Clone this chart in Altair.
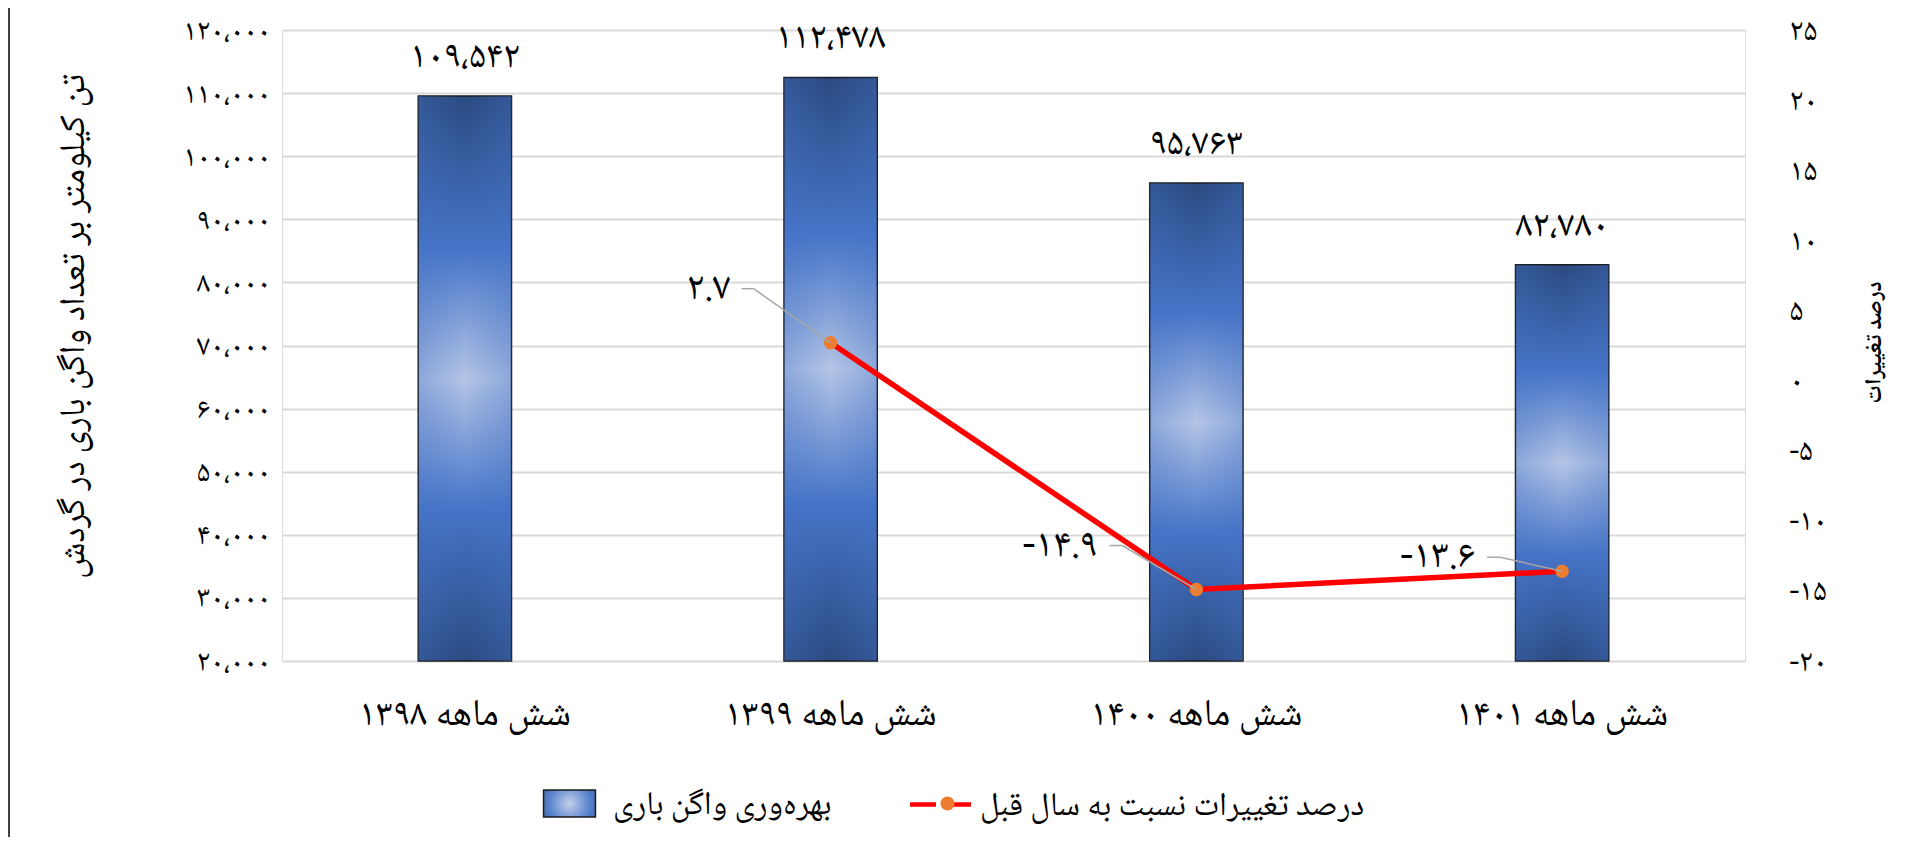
import altair as alt
import pandas as pd

# ---------------- data ----------------
categories = ["شش ماهه ۱۳۹۸", "شش ماهه ۱۳۹۹", "شش ماهه ۱۴۰۰", "شش ماهه ۱۴۰۱"]
productivity = [109542, 112478, 95763, 82780]
productivity_labels = ["۱۰۹،۵۴۲", "۱۱۲،۴۷۸", "۹۵،۷۶۳", "۸۲،۷۸۰"]
change_pct = [None, 2.7, -14.9, -13.6]
change_labels = ["", "۲.۷", "-۱۴.۹", "-۱۳.۶"]

left_ticks = [20000, 30000, 40000, 50000, 60000, 70000, 80000, 90000, 100000, 110000, 120000]
left_tick_labels = ["۲۰،۰۰۰", "۳۰،۰۰۰", "۴۰،۰۰۰", "۵۰،۰۰۰", "۶۰،۰۰۰", "۷۰،۰۰۰",
                    "۸۰،۰۰۰", "۹۰،۰۰۰", "۱۰۰،۰۰۰", "۱۱۰،۰۰۰", "۱۲۰،۰۰۰"]
right_ticks = [-20, -15, -10, -5, 0, 5, 10, 15, 20, 25]
right_tick_labels = ["-۲۰", "-۱۵", "-۱۰", "-۵", "۰", "۵", "۱۰", "۱۵", "۲۰", "۲۵"]

series_names = ["بهره‌وری واگن باری", "درصد تغییرات نسبت به سال قبل"]
left_title = "تن کیلومتر بر تعداد واگن باری در گردش"
right_title = "درصد تغییرات"

df = pd.DataFrame({
    "cat": categories,
    "val": productivity,
    "vlabel": productivity_labels,
    "pct": change_pct,
    "plabel": change_labels,
})

# ---------------- styling ----------------
FONT = "'Noto Naskh Arabic', 'DejaVu Sans', sans-serif"
W, H = 1463, 631
PAD_TOP = 22
PAD_BOTTOM = 176


def label_expr(values, labels):
    expr = "''"
    for v, l in zip(reversed(values), reversed(labels)):
        expr = f"datum.value == {v} ? '{l}' : ({expr})"
    return expr


x_axis = alt.Axis(title=None, labelAngle=0, labelFontSize=38, labelFont=FONT,
                  labelColor="#000000", labelPadding=52, labelBaseline="middle",
                  labelLimit=0, ticks=False, tickSize=0, domain=False, grid=False)
x_scale = alt.Scale(paddingInner=0.745, paddingOuter=0.3725)
x_enc = alt.X("cat:N", sort=categories, bandPosition=0.5, scale=x_scale, axis=x_axis)
x_bar = alt.X("cat:N", sort=categories, scale=x_scale, axis=x_axis)

y_left = alt.Y(
    "val:Q",
    scale=alt.Scale(domain=[20000, 120000], zero=False, nice=False),
    axis=alt.Axis(values=left_ticks, labelExpr=label_expr(left_ticks, left_tick_labels),
                  labelFontSize=30, labelFont=FONT, labelColor="#000000", labelPadding=12,
                  ticks=False, tickSize=0, domain=False,
                  grid=True, gridColor="#D9D9D9", gridWidth=1.8,
                  title=left_title, titleFont=FONT, titleFontSize=36, titleFontWeight="normal",
                  titleColor="#000000", titleAngle=-90, titleX=-210, titleY=296,
                  titleBaseline="middle", titleAlign="center", titleLimit=0),
)

y_right = alt.Y(
    "pct:Q",
    scale=alt.Scale(domain=[-20, 25], zero=False, nice=False),
    axis=alt.Axis(orient="right", values=right_ticks,
                  labelExpr=label_expr(right_ticks, right_tick_labels),
                  labelFontSize=31, labelFont=FONT, labelColor="#000000", labelPadding=44,
                  labelAlign="left", ticks=False, tickSize=0, domain=False, grid=False,
                  title=right_title, titleFont=FONT, titleFontSize=23, titleFontWeight="bold",
                  titleColor="#000000", titleAngle=-90, titleX=128, titleY=312,
                  titleBaseline="middle", titleAlign="center"),
)

bar_gradient = alt.LinearGradient(
    gradient="linear", x1=0, y1=0, x2=0, y2=1,
    stops=[
        alt.GradientStop(offset=0.0, color="#2B4A80"),
        alt.GradientStop(offset=0.27, color="#4674C8"),
        alt.GradientStop(offset=0.5, color="#B4C5E6"),
        alt.GradientStop(offset=0.73, color="#4674C8"),
        alt.GradientStop(offset=1.0, color="#2B4A80"),
    ],
)
bar_side_shade = alt.LinearGradient(
    gradient="linear", x1=0, y1=0, x2=1, y2=0,
    stops=[
        alt.GradientStop(offset=0.0, color="rgba(68,114,196,0.35)"),
        alt.GradientStop(offset=0.5, color="rgba(68,114,196,0)"),
        alt.GradientStop(offset=1.0, color="rgba(68,114,196,0.35)"),
    ],
)

base = alt.Chart(df)

bars = base.mark_bar(color=bar_gradient, stroke="#1a1a1a", strokeWidth=1.5).encode(
    x=x_bar, y=y_left, y2=alt.datum(20000)
)
bars_shade = base.mark_bar(color=bar_side_shade, strokeWidth=0).encode(
    x=x_bar, y=y_left, y2=alt.datum(20000)
)
bar_labels = base.mark_text(baseline="alphabetic", dy=-29, fontSize=38, font=FONT,
                            color="#000000").encode(x=x_enc, y=y_left, text="vlabel:N")

left_group = alt.layer(bars, bars_shade, bar_labels)

pct_data = base.transform_filter("isValid(datum.pct)")

line = pct_data.mark_line(color="#FF0000", strokeWidth=5.5).encode(x=x_enc, y=y_right)
points = pct_data.mark_circle(color="#ED7D31", size=180, opacity=1).encode(x=x_enc, y=y_right)

# leader lines + labels (offsets are styling, per label)
label_style = {
    categories[1]: dict(ex=-77, ey=-54, hx=-89, tx=-100, ty=-56),
    categories[2]: dict(ex=-74, ey=-44, hx=-87, tx=-99, ty=-45),
    categories[3]: dict(ex=-62, ey=-14, hx=-75, tx=-87, ty=-16),
}
x2_enc = alt.X2("cat", bandPosition=0.5)
leader_layers = []
for cat, st in label_style.items():
    sub = base.transform_filter(alt.datum.cat == cat)
    diag = sub.mark_rule(color="#A6A6A6", strokeWidth=1.5,
                         x2Offset=st["ex"], y2Offset=st["ey"]).encode(
        x=x_enc, x2=x2_enc, y=y_right, y2="pct:Q")
    horiz = sub.mark_rule(color="#A6A6A6", strokeWidth=1.5,
                          xOffset=st["ex"], x2Offset=st["hx"],
                          yOffset=st["ey"], y2Offset=st["ey"]).encode(
        x=x_enc, x2=x2_enc, y=y_right, y2="pct:Q")
    txt = sub.mark_text(align="right", baseline="middle", dx=st["tx"], dy=st["ty"],
                        fontSize=40, font=FONT, color="#000000").encode(
        x=x_enc, y=y_right, text="plabel:N")
    leader_layers += [diag, horiz, txt]

# ---------------- legend: three single-entry legends built from empty layers ----------------
LEG_Y = 757
LEG_FONT = 33
rect_path = "M-1.73,-0.9H1.73V0.9H-1.73Z"
line_path = "M-2.03,0H-0.3M0.3,0H2.03"
swatch_fill = {"expr": "{gradient: 'radial', x1: 0.5, y1: 0.5, r1: 0, x2: 0.5, y2: 0.5, r2: 0.7, "
                       "stops: [{offset: 0, color: '#C3D1EC'}, {offset: 0.55, color: '#5A84CE'}, "
                       "{offset: 1, color: '#2F5597'}]}"}

empty = base.transform_filter("false")

legend_bar = empty.transform_calculate(lf=f"'{series_names[0]}'").mark_point(
    filled=True, opacity=1).encode(
    x=x_enc, y=y_right,
    fill=alt.Fill("lf:N", scale=alt.Scale(domain=[series_names[0]], range=[swatch_fill]),
                  legend=alt.Legend(title=None, orient="none", legendX=271, legendY=LEG_Y,
                                    symbolType=rect_path, symbolSize=900,
                                    symbolStrokeColor="#1a1a1a", symbolStrokeWidth=1.5,
                                    symbolOpacity=1, labelOffset=27, labelLimit=1000,
                                    labelFont=FONT, labelFontSize=LEG_FONT,
                                    labelColor="#000000")),
)
legend_line = empty.transform_calculate(lb=f"'{series_names[1]}'").mark_point(
    filled=False, opacity=1).encode(
    x=x_enc, y=y_right,
    stroke=alt.Stroke("lb:N", scale=alt.Scale(domain=[series_names[1]], range=["#FF0000"]),
                      legend=alt.Legend(title=None, orient="none", legendX=641, legendY=LEG_Y,
                                        symbolType=line_path, symbolSize=900,
                                        symbolStrokeWidth=4.5, symbolOpacity=1,
                                        labelOffset=22, labelLimit=1000,
                                        labelFont=FONT, labelFontSize=LEG_FONT,
                                        labelColor="#000000")),
)
legend_dot = empty.transform_calculate(lc="'dot'").mark_point(
    filled=True, opacity=1).encode(
    x=x_enc, y=y_right,
    color=alt.Color("lc:N", scale=alt.Scale(domain=["dot"], range=["#ED7D31"]),
                    legend=alt.Legend(title=None, orient="none", legendX=649, legendY=LEG_Y,
                                      symbolType="circle", symbolSize=200,
                                      symbolStrokeWidth=0, symbolOpacity=1,
                                      labelExpr="''",
                                      labelFont=FONT, labelFontSize=LEG_FONT)),
)

right_group = alt.layer(line, points, *leader_layers, legend_bar, legend_line, legend_dot)

frame = alt.Chart(pd.DataFrame({"k": [0]})).mark_rule(color="#404040", strokeWidth=2).encode(
    x=alt.value(-273), y=alt.value(-PAD_TOP), y2=alt.value(H + PAD_BOTTOM)
)

chart = alt.layer(left_group, right_group, frame).resolve_scale(
    y="independent"
).properties(
    width=W, height=H, autosize=alt.AutoSizeParams(type="none"),
    padding={"left": 274, "top": PAD_TOP, "right": 150, "bottom": PAD_BOTTOM},
    background="#FFFFFF",
).configure_view(strokeWidth=0).configure(font=FONT)

chart.save("out.html", embed_options={"renderer": "svg", "actions": False})
